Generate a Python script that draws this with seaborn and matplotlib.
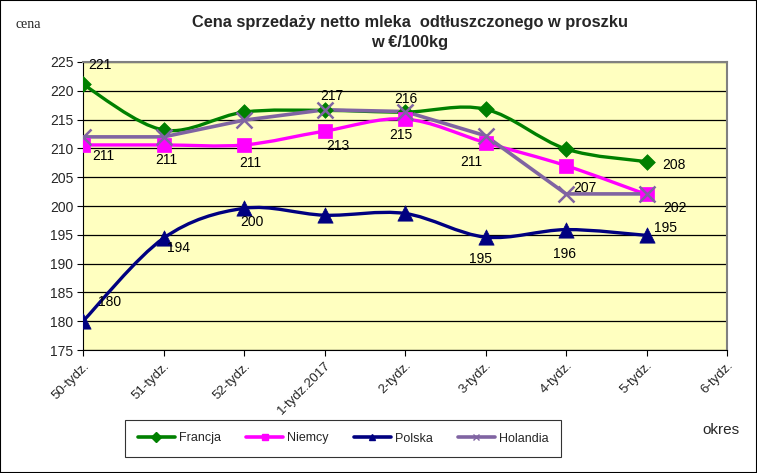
import numpy as np
import pandas as pd
import matplotlib
matplotlib.use("Agg")
import matplotlib.pyplot as plt
import seaborn as sns
from matplotlib.path import Path
from matplotlib.patches import PathPatch, Rectangle
from matplotlib.lines import Line2D

weeks = ["50-tydz.", "51-tydz.", "52-tydz.", "1-tydz.2017", "2-tydz.",
         "3-tydz.", "4-tydz.", "5-tydz.", "6-tydz."]
francja = [221.1, 213.2, 216.3, 216.6, 216.3, 216.8, 209.9, 207.7]
niemcy = [210.6, 210.6, 210.6, 213.0, 215.1, 211.0, 207.0, 202.0]
polska = [180.0, 194.4, 199.6, 198.4, 198.7, 194.6, 195.9, 194.9]
holandia = [212.0, 212.0, 214.9, 216.7, 216.4, 212.2, 202.1, 202.1]
yticks = list(range(175, 226, 5))

sns.set_theme(style="white")
plt.rcParams["font.family"] = ["Liberation Sans", "DejaVu Sans"]

W, H = 757, 473
fig = plt.figure(figsize=(W / 100, H / 100), dpi=100)
ax = fig.add_axes([83 / W, 1 - 350 / H, (727 - 83) / W, (350 - 62) / H])
ax.set_facecolor("#FFFFC0")

series = [
    ("Francja", francja, "#008000", "D", 8, True),
    ("Niemcy", niemcy, "#FF00FF", "s", 10, True),
    ("Polska", polska, "#000080", "^", 11, True),
    ("Holandia", holandia, "#8064A2", "x", 11, False),
]

def smooth_path(xs, ys):
    n = len(xs)
    pts = np.column_stack([xs, ys]).astype(float)
    verts = [tuple(pts[0])]
    codes = [Path.MOVETO]
    for i in range(n - 1):
        p0 = pts[i - 1] if i > 0 else pts[i]
        p1 = pts[i]
        p2 = pts[i + 1]
        p3 = pts[i + 2] if i + 2 < n else pts[i + 1]
        c1 = p1 + (p2 - p0) / 6.0
        c2 = p2 - (p3 - p1) / 6.0
        verts += [tuple(c1), tuple(c2), tuple(p2)]
        codes += [Path.CURVE4] * 3
    return Path(verts, codes)

handles = []
for name, vals, col, mk, ms, smooth in series:
    xs = np.arange(len(vals))
    df = pd.DataFrame({"x": xs, "y": vals})
    if smooth:
        ax.add_patch(PathPatch(smooth_path(xs, vals), fill=False, edgecolor=col,
                               lw=2.4, zorder=3, capstyle="round", joinstyle="round"))
    else:
        sns.lineplot(data=df, x="x", y="y", ax=ax, color=col, lw=2.6, zorder=3)
    if mk == "x":
        ax.plot(xs, vals, linestyle="none", marker="x", markersize=ms,
                markeredgewidth=1.8, color=col, zorder=4)
    else:
        sns.scatterplot(data=df, x="x", y="y", ax=ax, marker=mk, s=ms ** 2,
                        color=col, edgecolor=col, linewidth=0.5, zorder=4)
    handles.append(Line2D([0], [0], color=col, lw=2.6, marker=mk,
                          markersize=5, markeredgewidth=1.0, label=name))

# data labels: (series values, index, dx px, dy px down)
labels = [
    (francja, 0, 17, -19), (francja, 7, 27, 3),
    (niemcy, 0, 20, 11), (niemcy, 1, 3, 15), (niemcy, 2, 6, 18),
    (niemcy, 3, 13, 15), (niemcy, 4, -4, 16), (niemcy, 5, -14, 19),
    (niemcy, 6, 19, 22), (niemcy, 7, 28, 14),
    (holandia, 3, 7, -14), (holandia, 4, 1, -13),
    (polska, 0, 27, -19), (polska, 1, 15, 10), (polska, 2, 8, 14),
    (polska, 5, -5, 22), (polska, 6, -2, 24), (polska, 7, 19, -7),
]
for vals, i, dx, dy in labels:
    ax.annotate(f"{int(vals[i] + 0.5)}", (i, vals[i]), xytext=(dx, -dy),
                textcoords="offset pixels", ha="center", va="center",
                fontsize=10, color="black", zorder=6)

ax.set_xlim(0, 8)
ax.set_ylim(175, 225)
ax.set_xticks(range(len(weeks)))
ax.set_xticklabels(weeks, rotation=45, ha="right", rotation_mode="anchor", fontsize=9.5)
ax.set_yticks(yticks)
ax.set_yticklabels([str(v) for v in yticks], fontsize=10)
ax.yaxis.grid(True, color="black", lw=0.9)
ax.set_axisbelow(True)
ax.tick_params(axis="both", which="both", direction="out", length=4, width=0.8,
               color="black", bottom=True, left=True, pad=3)
ax.set_xlabel("")
ax.set_ylabel("")
for s in ["top", "right"]:
    ax.spines[s].set_color("#808080")
    ax.spines[s].set_linewidth(1.5)
for s in ["left", "bottom"]:
    ax.spines[s].set_color("black")
    ax.spines[s].set_linewidth(0.8)

fig.text(410 / W, 1 - 22 / H, "Cena sprzedaży netto mleka  odtłuszczonego w proszku",
         ha="center", va="center", fontsize=11.8, fontweight="bold")
fig.text(410 / W, 1 - 42 / H, "w €/100kg", ha="center", va="center",
         fontsize=11.8, fontweight="bold")
fig.text(28 / W, 1 - 25 / H, "cena", ha="center", va="center", fontsize=10,
         family=["Liberation Serif", "DejaVu Serif"])
fig.text(721 / W, 1 - 430 / H, "okres", ha="center", va="center", fontsize=11)

leg = fig.legend(handles=handles, loc="center", ncol=4,
                 bbox_to_anchor=(343 / W, 1 - 438.5 / H),
                 frameon=True, fancybox=False, fontsize=9,
                 handlelength=3.0, handletextpad=0.3, columnspacing=2.0,
                 borderpad=1.0, borderaxespad=0)
leg.get_frame().set_edgecolor("black")
leg.get_frame().set_linewidth(0.8)

fig.add_artist(Rectangle((0, 0), 1, 1, transform=fig.transFigure, fill=False,
                         edgecolor="black", lw=1.5))

fig.savefig("out.png", dpi=100)
